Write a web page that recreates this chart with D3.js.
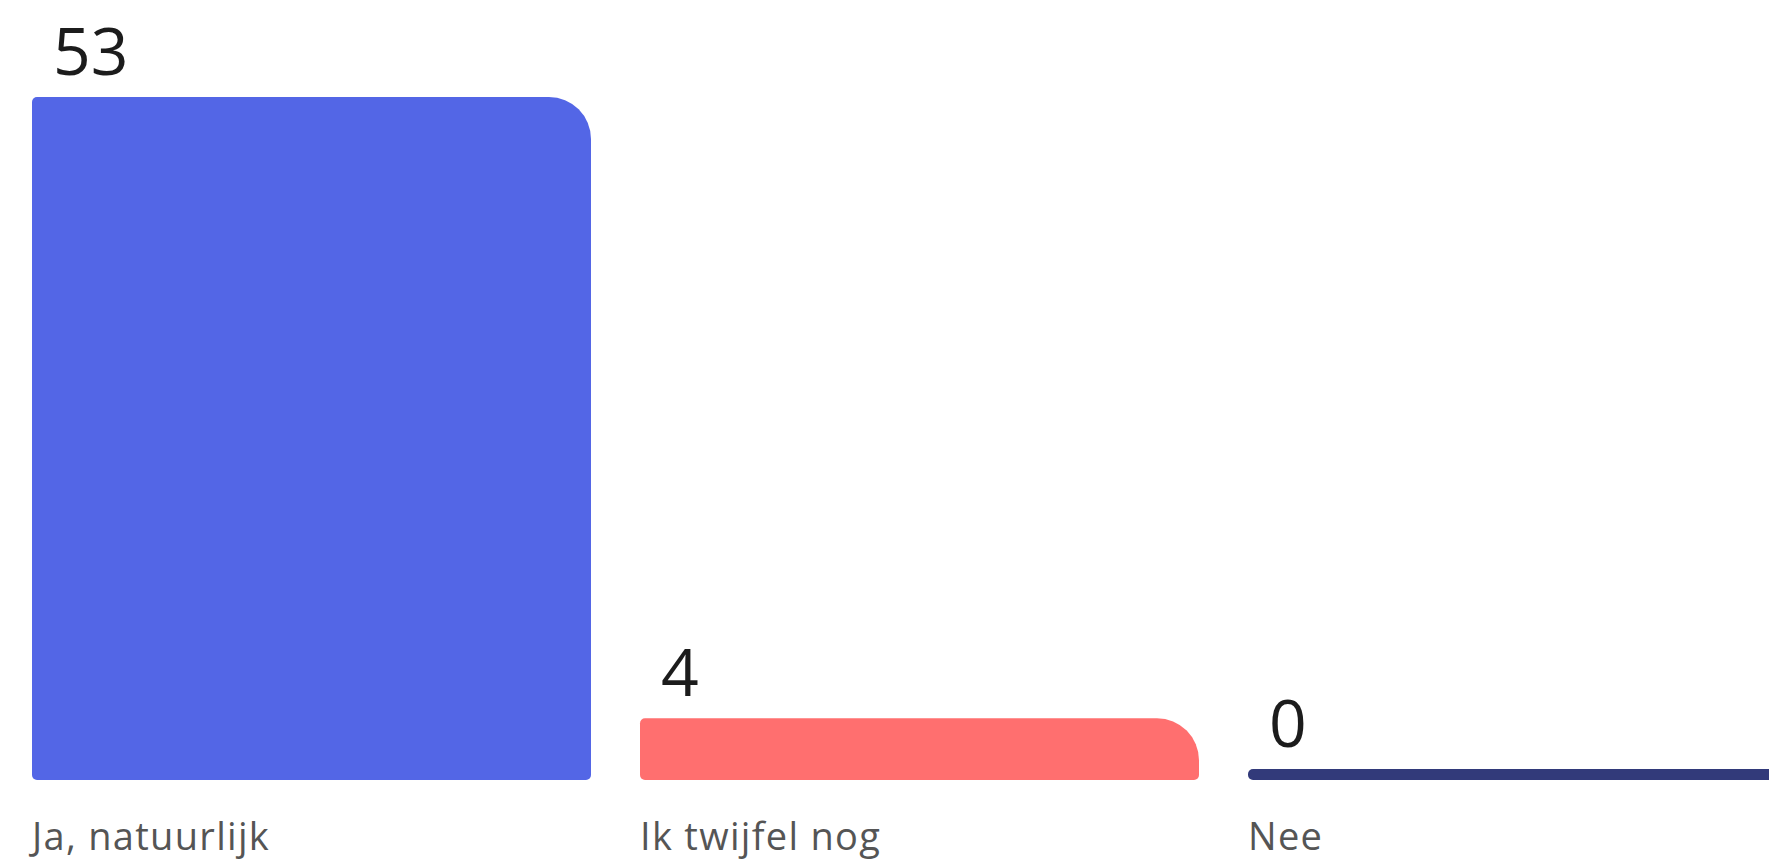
<!DOCTYPE html>
<html>
<head>
<meta charset="utf-8">
<script src="https://cdn.jsdelivr.net/npm/d3@7"></script>
<style>
  html, body { margin: 0; padding: 0; background: #ffffff; overflow: hidden; }
  svg { display: block; }
</style>
</head>
<body>
<svg id="chart" width="1769" height="862"></svg>
<script>
const categories = ["Ja, natuurlijk", "Ik twijfel nog", "Nee"];
const values = [53, 4, 0];
const colors = ["#5366E6", "#FF6F6F", "#323A7A"];

const W = 1769, H = 862;
const svg = d3.select("#chart");

const baseY = 780, minBar = 11;
const x = d3.scaleBand().domain(categories).range([32, 1807]).paddingInner(0.0806).paddingOuter(0);
const y = d3.scaleLinear().domain([0, d3.max(values)]).range([baseY - minBar, 97]);

function barPath(x0, y0, w, h) {
  const R = Math.min(42, h, w / 2);
  const r = Math.min(5, h / 2);
  const x1 = x0 + w, y1 = y0 + h;
  const rt = h <= 2 * r + 1 ? r : R;
  return `M${x0 + r},${y0}` +
    `H${x1 - rt}` +
    `A${rt},${rt} 0 0 1 ${x1},${y0 + rt}` +
    `V${y1 - r}` +
    `A${r},${r} 0 0 1 ${x1 - r},${y1}` +
    `H${x0 + r}` +
    `A${r},${r} 0 0 1 ${x0},${y1 - r}` +
    `V${y0 + r}` +
    `A${r},${r} 0 0 1 ${x0 + r},${y0}Z`;
}

const data = categories.map((c, i) => ({ c, v: values[i], color: colors[i] }));

svg.selectAll("path.bar").data(data).join("path")
  .attr("class", "bar")
  .attr("fill", d => d.color)
  .attr("d", d => {
    const top = y(d.v);
    return barPath(x(d.c), top, x.bandwidth(), baseY - top);
  });

svg.selectAll("text.val").data(data).join("text")
  .attr("class", "val")
  .attr("x", d => x(d.c) + 21)
  .attr("y", d => y(d.v) - 22)
  .attr("font-family", "'Open Sans', sans-serif")
  .attr("font-size", 66)
  .attr("fill", "#1c1c1c")
  .text(d => d.v);

svg.selectAll("text.cat").data(data).join("text")
  .attr("class", "cat")
  .attr("x", d => x(d.c))
  .attr("y", 850)
  .attr("font-family", "'Open Sans', sans-serif")
  .attr("font-size", 38)
  .attr("letter-spacing", 1.3)
  .attr("fill", "#555555")
  .text(d => d.c);
</script>
</body>
</html>
